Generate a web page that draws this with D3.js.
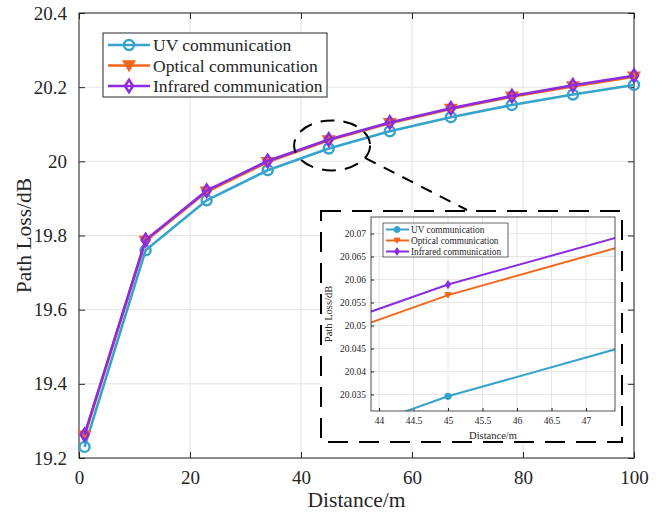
<!DOCTYPE html>
<html>
<head>
<meta charset="utf-8">
<script src="https://cdn.jsdelivr.net/npm/d3@7"></script>
<style>
  body { margin: 0; background: #fff; }
</style>
</head>
<body>
<svg id="chart" width="666" height="514"></svg>
<script>
// distances (m)
const distances = [1, 12, 23, 34, 45, 56, 67, 78, 89, 100];
// path loss (dB)
const uvLoss       = [19.230, 19.760, 19.895, 19.976, 20.0346, 20.081, 20.119, 20.152, 20.180, 20.206];
const opticalLoss  = [19.260, 19.785, 19.918, 19.998, 20.0566, 20.103, 20.141, 20.174, 20.202, 20.228];
const infraredLoss = [19.263, 19.788, 19.921, 20.001, 20.0589, 20.105, 20.143, 20.176, 20.205, 20.231];

const seriesNames = ["UV communication", "Optical communication", "Infrared communication"];
const xTicks = [0, 20, 40, 60, 80, 100];
const yTicks = [19.2, 19.4, 19.6, 19.8, 20, 20.2, 20.4];
const insetXTicks = [44, 44.5, 45, 45.5, 46, 46.5, 47];
const insetYTicks = [20.035, 20.04, 20.045, 20.05, 20.055, 20.06, 20.065, 20.07];

const colors = ["#35a3cb", "#f4661b", "#8b2be2"];
const markers = ["circle", "triangle", "diamond"];
const FONT = "Liberation Serif";

const series = [uvLoss, opticalLoss, infraredLoss].map((vals, i) => ({
  name: seriesNames[i],
  color: colors[i],
  marker: markers[i],
  values: distances.map((d, j) => ({ d: d, v: vals[j] }))
}));

const svg = d3.select("#chart");

// ---------- main axes ----------
const x = d3.scaleLinear().domain([0, 100]).range([79, 634]);
const y = d3.scaleLinear().domain([19.2, 20.4]).range([458, 13]);
const fmt = d => d3.format("")(+d.toFixed(3));

function markerPath(type, size) {
  const s = size;
  if (type === "circle") return d3.symbol(d3.symbolCircle, s * s * Math.PI)();
  if (type === "triangle") return `M${-s},${-s * 0.8}L${s},${-s * 0.8}L0,${s * 0.9}Z`;
  return `M0,${-s * 1.25}L${s * 0.8},0L0,${s * 1.25}L${-s * 0.8},0Z`;
}

// grid
const grid = svg.append("g");
grid.selectAll(".gx").data(xTicks).join("line")
  .attr("x1", d => x(d)).attr("x2", d => x(d))
  .attr("y1", y(19.2)).attr("y2", y(20.4))
  .attr("stroke", "#e3e3e3").attr("stroke-width", 1);
grid.selectAll(".gy").data(yTicks).join("line")
  .attr("x1", x(0)).attr("x2", x(100))
  .attr("y1", d => y(d)).attr("y2", d => y(d))
  .attr("stroke", "#e3e3e3").attr("stroke-width", 1);

// axes with inward ticks on all four sides
function styleAxis(g, fs) {
  g.attr("font-family", null);
  g.select(".domain").remove();
  g.selectAll(".tick line").attr("stroke", "#262626");
  g.selectAll(".tick text").style("font-size", fs + "px").attr("fill", "#262626");
}
svg.append("g").attr("transform", `translate(0,${y(19.2)})`)
  .call(d3.axisBottom(x).tickValues(xTicks).tickSize(-6).tickPadding(13).tickFormat(fmt))
  .call(g => styleAxis(g, 19));
svg.append("g").attr("transform", `translate(0,${y(20.4)})`)
  .call(d3.axisTop(x).tickValues(xTicks).tickSize(-6).tickFormat(""))
  .call(g => styleAxis(g, 19));
svg.append("g").attr("transform", `translate(${x(0)},0)`)
  .call(d3.axisLeft(y).tickValues(yTicks).tickSize(-6).tickPadding(12).tickFormat(fmt))
  .call(g => styleAxis(g, 19));
svg.append("g").attr("transform", `translate(${x(100)},0)`)
  .call(d3.axisRight(y).tickValues(yTicks).tickSize(-6).tickFormat(""))
  .call(g => styleAxis(g, 19));
svg.append("rect")
  .attr("x", x(0)).attr("y", y(20.4))
  .attr("width", x(100) - x(0)).attr("height", y(19.2) - y(20.4))
  .attr("fill", "none").attr("stroke", "#262626").attr("stroke-width", 1);

svg.append("text").attr("x", (x(0) + x(100)) / 2).attr("y", 507)
  .attr("text-anchor", "middle").style("font-size", "21.5px").text("Distance/m");
svg.append("text").attr("transform", `translate(31,${(y(19.2) + y(20.4)) / 2}) rotate(-90)`)
  .attr("text-anchor", "middle").style("font-size", "21.5px").text("Path Loss/dB");

// series
const line = d3.line().x(p => x(p.d)).y(p => y(p.v));
series.forEach(s => {
  svg.append("path").datum(s.values).attr("d", line)
    .attr("fill", "none").attr("stroke", s.color).attr("stroke-width", 2.6);
  svg.selectAll(null).data(s.values).join("path")
    .attr("transform", p => `translate(${x(p.d)},${y(p.v)})`)
    .attr("d", markerPath(s.marker, 5))
    .attr("fill", s.marker === "triangle" ? s.color : "none")
    .attr("stroke", s.color).attr("stroke-width", 2.4);
});

// main legend
const leg = svg.append("g");
leg.append("rect").attr("x", 103).attr("y", 33).attr("width", 224).attr("height", 64)
  .attr("fill", "#fff").attr("stroke", "#262626").attr("stroke-width", 1);
series.forEach((s, i) => {
  const ly = 45 + i * 20.5;
  leg.append("line").attr("x1", 108).attr("x2", 150).attr("y1", ly).attr("y2", ly)
    .attr("stroke", s.color).attr("stroke-width", 2.6);
  leg.append("path").attr("transform", `translate(129,${ly})`)
    .attr("d", markerPath(s.marker, 5))
    .attr("fill", s.marker === "triangle" ? s.color : "none")
    .attr("stroke", s.color).attr("stroke-width", 2.4);
  leg.append("text").attr("x", 153).attr("y", ly + 6).style("font-size", "17.5px").text(s.name);
});

// ---------- zoom annotation ----------
const ecx = x(45.6), ecy = y(20.043), erx = 38, ery = 25;
svg.append("ellipse").attr("cx", ecx).attr("cy", ecy).attr("rx", erx).attr("ry", ery)
  .attr("fill", "none").attr("stroke", "#000").attr("stroke-width", 2)
  .attr("stroke-dasharray", "14,9");
const th = Math.PI / 6;
svg.append("line")
  .attr("x1", ecx + erx * Math.cos(th)).attr("y1", ecy + ery * Math.sin(th))
  .attr("x2", 467).attr("y2", 210)
  .attr("stroke", "#000").attr("stroke-width", 2).attr("stroke-dasharray", "12,9");

// dashed inset frame
svg.append("rect").attr("x", 321).attr("y", 211).attr("width", 301).attr("height", 231)
  .attr("fill", "#fff").attr("stroke", "#000").attr("stroke-width", 2)
  .attr("stroke-dasharray", "20,11");

// ---------- inset axes ----------
const xi = d3.scaleLinear().domain([43.884, 47.42]).range([371, 615]);
const yi = d3.scaleLinear().domain([20.0314, 20.0736]).range([411, 217]);
const inset = svg.append("g");
inset.append("rect").attr("x", 371).attr("y", 217).attr("width", 244).attr("height", 194).attr("fill", "#fff");
inset.selectAll(".igx").data(insetXTicks).join("line")
  .attr("x1", d => xi(d)).attr("x2", d => xi(d)).attr("y1", 217).attr("y2", 411)
  .attr("stroke", "#e6e6e6");
inset.selectAll(".igy").data(insetYTicks).join("line")
  .attr("x1", 371).attr("x2", 615).attr("y1", d => yi(d)).attr("y2", d => yi(d))
  .attr("stroke", "#e6e6e6");
inset.append("g").attr("transform", "translate(0,411)")
  .call(d3.axisBottom(xi).tickValues(insetXTicks).tickSize(-3).tickPadding(6).tickFormat(fmt))
  .call(g => styleAxis(g, 9.5));
inset.append("g").attr("transform", "translate(371,0)")
  .call(d3.axisLeft(yi).tickValues(insetYTicks).tickSize(-3).tickPadding(5).tickFormat(fmt))
  .call(g => styleAxis(g, 9.5));
inset.append("text").attr("x", 493).attr("y", 439).attr("text-anchor", "middle")
  .style("font-size", "10.5px").text("Distance/m");
inset.append("text").attr("transform", "translate(332,314) rotate(-90)")
  .attr("text-anchor", "middle").style("font-size", "10.5px").text("Path Loss/dB");

svg.append("clipPath").attr("id", "insetClip").append("rect")
  .attr("x", 371).attr("y", 217).attr("width", 244).attr("height", 194);
const iplot = inset.append("g").attr("clip-path", "url(#insetClip)");
const iline = d3.line().x(p => xi(p.d)).y(p => yi(p.v));
series.forEach(s => {
  iplot.append("path").datum(s.values).attr("d", iline)
    .attr("fill", "none").attr("stroke", s.color).attr("stroke-width", 2);
  iplot.selectAll(null).data(s.values).join("path")
    .attr("transform", p => `translate(${xi(p.d)},${yi(p.v)})`)
    .attr("d", markerPath(s.marker, 3.2))
    .attr("fill", s.color).attr("stroke", s.color).attr("stroke-width", 1);
});
inset.append("rect").attr("x", 371).attr("y", 217).attr("width", 244).attr("height", 194)
  .attr("fill", "none").attr("stroke", "#262626").attr("stroke-width", 0.8);

// inset legend
const ileg = inset.append("g");
ileg.append("rect").attr("x", 383).attr("y", 223).attr("width", 125).attr("height", 34)
  .attr("fill", "#fff").attr("stroke", "#262626").attr("stroke-width", 0.7);
series.forEach((s, i) => {
  const ly = 229.5 + i * 11;
  ileg.append("line").attr("x1", 386).attr("x2", 409).attr("y1", ly).attr("y2", ly)
    .attr("stroke", s.color).attr("stroke-width", 2);
  ileg.append("path").attr("transform", `translate(397,${ly})`)
    .attr("d", markerPath(s.marker, 3))
    .attr("fill", s.color).attr("stroke", s.color).attr("stroke-width", 1);
  ileg.append("text").attr("x", 411).attr("y", ly + 3.3).style("font-size", "9.3px").text(s.name);
});

// serif text everywhere, like the original figure
svg.selectAll("text").style("font-family", FONT).attr("fill", "#262626");
</script>
</body>
</html>
